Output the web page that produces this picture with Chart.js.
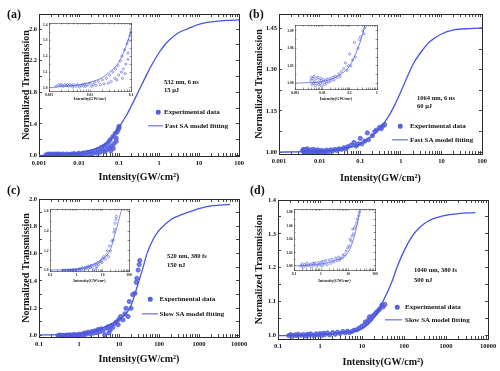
<!DOCTYPE html>
<html><head><meta charset="utf-8">
<script src="https://cdn.jsdelivr.net/npm/chart.js@4.4.1/dist/chart.umd.min.js"></script>
<style>
html,body{margin:0;padding:0;background:#fff;}
#wrap{position:relative;width:500px;height:371px;overflow:hidden;font-family:"Liberation Serif","Times New Roman",serif;font-weight:bold;color:#111;}
#wrap canvas{position:absolute;}
.t{position:absolute;white-space:nowrap;line-height:1;transform:translateY(-50%);}
.dot{position:absolute;width:4.5px;height:4.5px;border-radius:50%;background:#5560dc;transform:translate(-50%,-50%);}
.ln{position:absolute;height:1.3px;background:#4656dc;transform:translateY(-50%);}
</style></head><body>
<div id="wrap">
<canvas id="cA" width="250" height="185" style="left:0;top:0"></canvas>
<canvas id="cB" width="250" height="185" style="left:250px;top:0"></canvas>
<canvas id="cC" width="250" height="186" style="left:0;top:185px"></canvas>
<canvas id="cD" width="250" height="186" style="left:250px;top:185px"></canvas>
<canvas id="iA" width="98" height="86" style="left:38px;top:18px"></canvas>
<canvas id="iB" width="98" height="84" style="left:284px;top:20px"></canvas>
<canvas id="iC" width="95" height="82" style="left:39px;top:204px"></canvas>
<canvas id="iD" width="97" height="82" style="left:283px;top:204px"></canvas>
</div>
<script>
// ---------- DATA ----------
// (a) 532 nm, 6 ns
const expA_x = [0.0015,0.0017,0.0019,0.002,0.0022,0.0024,0.0026,0.0028,0.003,0.0032,0.0035,0.0038,0.004,0.0045,0.005,0.0055,0.006,0.0065,0.007,0.0075,0.008,0.009,0.01,0.011,0.012,0.013,0.014,0.016,0.018,0.02,0.022,0.025,0.028,0.03,0.033,0.036,0.04,0.042,0.045,0.048,0.05,0.055,0.058,0.06,0.065,0.07,0.075,0.08,0.085,0.09,0.095,0.1,0.1,0.062,0.072,0.085];
const expA_y = [1.01,1.02,1.015,1.02,1.01,1.02,1.015,1.02,1.01,1.02,1.015,1.005,1.02,1.01,1.02,1.005,1.015,1.02,1.01,1.025,1.01,1.02,1.03,1.01,1.02,1.035,1.015,1.04,1.02,1.05,1.025,1.06,1.03,1.08,1.04,1.1,1.06,1.12,1.05,1.14,1.08,1.17,1.1,1.2,1.12,1.24,1.15,1.28,1.22,1.3,1.33,1.37,1.35,1.06,1.09,1.18];
const fitA_x = [0.001,0.002,0.005,0.01,0.02,0.03,0.05,0.07,0.1,0.15,0.2,0.3,0.5,0.7,1,1.5,2,3,5,10,20,50,100];
const fitA_y = [1.0,1.008,1.018,1.035,1.065,1.1,1.16,1.24,1.36,1.5,1.62,1.8,2.03,2.17,2.3,2.42,2.48,2.55,2.6,2.66,2.69,2.71,2.715];
const xLabA = ['0.001','0.01','0.1','1','10','100'];
const yLabA = ['1.0','1.4','1.8','2.2','2.6'];
const xLabAi = ['0.001','0.01','0.1'];
const yLabAi = ['1.0','1.1','1.2','1.3','1.4'];

// (b) 1064 nm, 6 ns
const expB_x = [0.0038,0.004,0.0042,0.0045,0.0048,0.005,0.0052,0.0055,0.006,0.0065,0.007,0.0075,0.008,0.0085,0.009,0.0095,0.01,0.011,0.012,0.013,0.014,0.015,0.017,0.019,0.021,0.024,0.027,0.03,0.035,0.04,0.045,0.05,0.06,0.07,0.08,0.09,0.1,0.11,0.13,0.15,0.16,0.2,0.23,0.25,0.3,0.33,0.36,0.4];
const expB_y = [1.005,1.01,0.998,1.008,1.0,1.012,1.003,0.996,1.008,1.0,1.01,0.997,1.005,1.0,1.008,0.995,1.002,1.006,0.998,1.004,1.0,1.007,1.002,1.008,1.004,1.01,1.006,1.012,1.01,1.016,1.012,1.02,1.025,1.035,1.022,1.03,1.05,1.03,1.04,1.07,1.045,1.06,1.075,1.08,1.09,1.085,1.095,1.1];
const fitB_x = [0.001,0.003,0.01,0.03,0.1,0.2,0.3,0.5,0.7,1,1.5,2,3,5,10,20,50,100];
const fitB_y = [1.0,1.001,1.003,1.01,1.03,1.06,1.085,1.13,1.17,1.22,1.28,1.32,1.36,1.4,1.43,1.445,1.45,1.452];
const xLabB = ['0.001','0.01','0.1','1','10','100'];
const yLabB = ['1.00','1.15','1.30','1.45'];
const xLabBi = ['0.001','0.01','0.1','1'];
const yLabBi = ['1.00','1.03','1.06','1.09'];

// (c) 520 nm, 380 fs
const expC_x = [0.3,0.33,0.36,0.4,0.45,0.5,0.55,0.6,0.65,0.7,0.75,0.8,0.9,1.0,1.1,1.2,1.3,1.4,1.5,1.7,1.9,2.1,2.3,2.5,2.8,3.0,3.3,3.6,4.0,4.4,4.8,5.3,5.6,6,6.5,7,8,8.6,9.5,10,11,12.6,14,15,16.8,18,20,22,25,27,28,30,32,33];
const expC_y = [1.0,1.005,1.0,1.003,1.0,1.005,1.002,1.006,1.0,1.004,1.008,1.002,1.006,1.01,1.0,1.012,1.005,1.02,1.01,1.025,1.012,1.03,1.018,1.035,1.022,1.045,1.028,1.05,1.035,1.005,1.055,1.065,1.02,1.04,1.075,1.06,1.09,1.1,1.08,1.12,1.14,1.115,1.16,1.2,1.14,1.25,1.2,1.3,1.31,1.39,1.42,1.48,1.52,1.55];
const fitC_x = [0.1,0.3,1,2,3,5,7,10,15,20,30,40,50,70,100,150,200,300,500,1000,2000,6000];
const fitC_y = [1.005,1.007,1.015,1.03,1.045,1.07,1.09,1.12,1.16,1.22,1.38,1.5,1.6,1.7,1.77,1.82,1.85,1.875,1.9,1.93,1.95,1.96];
const xLabC = ['0.1','1','10','100','1000','10000'];
const yLabC = ['1.0','1.2','1.4','1.6','1.8','2.0'];
const xLabCi = ['0.1','1','10','100'];
const yLabCi = ['1.0','1.2','1.4','1.6'];

// (d) 1040 nm, 380 fs
const expD_x = [0.18,0.2,0.22,0.25,0.28,0.3,0.35,0.4,0.45,0.5,0.55,0.6,0.7,0.8,0.9,1.0,1.1,1.2,1.3,1.5,1.7,2,2.3,2.6,3,3.5,4,4.5,5,5.7,6.5,7.5,8.5,9.8,11,12,13,14,15,16,17.1,19,21,22.5,25,27,29.6,32,35];
const expD_y = [1.0,1.003,0.998,1.002,1.0,1.004,1.001,1.003,0.999,1.004,1.002,1.005,1.0,1.005,1.002,1.006,1.0,1.007,1.003,1.008,1.002,1.009,1.004,1.01,1.006,1.012,1.008,1.013,1.009,1.012,1.016,1.017,1.022,1.027,1.03,1.04,1.037,1.045,1.055,1.048,1.056,1.06,1.065,1.07,1.075,1.08,1.09,1.085,1.092];
const fitD_x = [0.1,1,3,10,20,30,50,70,100,150,200,300,500,1000,2000,5000];
const fitD_y = [1.0,1.003,1.008,1.02,1.055,1.095,1.155,1.205,1.25,1.29,1.31,1.33,1.345,1.355,1.36,1.363];
const xLabD = ['0.1','1','10','100','1000','10000'];
const yLabD = ['1.0','1.1','1.2','1.3','1.4'];
const xLabDi = ['0.1','1','10','100'];
const yLabDi = ['1.00','1.02','1.04','1.06','1.08'];

// ---------- DRAWING ----------
const FONT = '"Liberation Serif","Times New Roman",serif';
const XT = 'Intensity(GW/cm\u00B2)';
const YT = 'Normalized Transmission';

function dsets(ex, ey, fx, fy, inset){
  return [
    {data: ex.map((x,i)=>({x:x, y:ey[i]})), showLine:false,
     pointRadius: inset?1.1:2.1, pointBorderWidth: inset?0.6:0.8,
     pointBackgroundColor: inset?'rgba(255,255,255,0)':'rgba(88,98,224,0.85)',
     pointBorderColor:'#4f5bd8', order:1},
    {data: fx.map((x,i)=>({x:x, y:fy[i]})), showLine:true, pointRadius:0,
     borderColor:'#4757da', borderWidth: inset?0.7:1.3, cubicInterpolationMode:'monotone', fill:false, order:0}
  ];
}

function build(id, c, datasets){
  const xv = c.xLabs.map(Number), yv = c.yLabs.map(Number);
  const xt = [];
  xv.forEach(v=>{ xt.push(v); for(let k=2;k<=9;k++){ const m=v*k; if(m<=c.xmax*1.0001) xt.push(m);} });
  const yt = yv.slice();
  const st = yv[1]-yv[0];
  for(let i=-1;i<yv.length;i++){ const m=yv[0]+st*(i+0.5); if(m>=c.ymin && m<=c.ymax) yt.push(m); }
  yt.sort((a,b)=>a-b);
  const xcb = v=>{ const i=xv.indexOf(v); return i>=0?c.xLabs[i]:''; };
  const ycb = v=>{ const i=yv.indexOf(v); return i>=0?c.yLabs[i]:''; };
  const grid = {display:true, drawOnChartArea:false, drawTicks:true, tickLength:-c.tl,
                color:'#333', tickColor:'#333', lineWidth:c.lw, tickWidth:c.lw};
  const border = {display:true, color:'#2a2a2a', width:c.bw};
  const tf = {family:FONT, weight:'bold', size:c.fs, lineHeight:1.2};
  const ttf = {family:FONT, weight:'bold', size:c.tfs, lineHeight:1.2};
  const fit = (w,h)=>function(s){ if(w!==null) s.width=w; if(h!==null) s.height=h;
      s.paddingLeft=0; s.paddingRight=0; s.paddingTop=0; s.paddingBottom=0; };
  const xT = s=>{ s.ticks = xt.map(v=>({value:v})); };
  const yT = s=>{ s.ticks = yt.map(v=>({value:v})); };
  const scales = {
    x:{type:'logarithmic', position:'bottom', min:c.xmin, max:c.xmax, afterBuildTicks:xT, afterFit:fit(null,c.xh),
       grid:grid, border:border,
       ticks:{display:true, autoSkip:false, maxRotation:0, minRotation:0, padding:c.xpad, font:tf, color:'#111', callback:xcb},
       title: c.xTitle ? {display:true, text:c.xTitle, font:ttf, color:'#111', padding:{top:0,bottom:c.xtp}} : {display:false}},
    xtop:{type:'logarithmic', position:'top', min:c.xmin, max:c.xmax, afterBuildTicks:xT, afterFit:fit(null,0),
       grid:grid, border:border, ticks:{display:false}},
    y:{type:'linear', position:'left', min:c.ymin, max:c.ymax, afterBuildTicks:yT, afterFit:fit(c.yw,null),
       grid:grid, border:border,
       ticks:{display:true, autoSkip:false, padding:c.ypad, font:tf, color:'#111', callback:ycb},
       title: c.yTitle ? {display:true, text:c.yTitle, font:ttf, color:'#111', padding:{top:c.ytp,bottom:0}} : {display:false}},
    yright:{type:'linear', position:'right', min:c.ymin, max:c.ymax, afterBuildTicks:yT, afterFit:fit(0,null),
       grid:grid, border:border, ticks:{display:false}}
  };
  return new Chart(document.getElementById(id), {
    type:'scatter',
    data:{datasets:datasets},
    options:{responsive:false, animation:false, devicePixelRatio:1, events:[],
      layout:{padding:{left:0, top:c.pt, right:c.pr, bottom:0}},
      plugins:{legend:{display:false}, tooltip:{enabled:false}},
      scales:scales}
  });
}

const mainBase = {tl:3, lw:0.9, bw:1, fs:6.5, tfs:10, xpad:6, ypad:5, xTitle:XT, yTitle:YT};
const insBase = {tl:1.5, lw:0.5, bw:0.6, fs:3.6, tfs:4, xpad:3, ypad:3, yw:11, pt:5, pr:5, xTitle:XT, yTitle:null};

build('cA', Object.assign({}, mainBase, {xmin:0.001, xmax:100, ymin:0.995, ymax:2.79, xLabs:xLabA, yLabs:yLabA,
  pt:14, pr:11, yw:39, xh:29, xtp:2, ytp:20}), dsets(expA_x, expA_y, fitA_x, fitA_y, false));
build('cB', Object.assign({}, mainBase, {xmin:0.001, xmax:100, ymin:0.993, ymax:1.503, xLabs:xLabB, yLabs:yLabB,
  pt:14, pr:18, yw:29, xh:31, xtp:1, ytp:3}), dsets(expB_x, expB_y, fitB_x, fitB_y, false));
build('cC', Object.assign({}, mainBase, {xmin:0.1, xmax:10000, ymin:0.99, ymax:2.0, xLabs:xLabC, yLabs:yLabC,
  pt:14, pr:11, yw:39, xh:34, xtp:6, ytp:20}), dsets(expC_x, expC_y, fitC_x, fitC_y, false));
build('cD', Object.assign({}, mainBase, {xmin:0.1, xmax:10000, ymin:0.99, ymax:1.4, xLabs:xLabD, yLabs:yLabD,
  pt:15, pr:12, yw:28, xh:32, xtp:3, ytp:3.6}), dsets(expD_x, expD_y, fitD_x, fitD_y, false));

build('iA', Object.assign({}, insBase, {xmin:0.001, xmax:0.1, ymin:0.98, ymax:1.41, xLabs:xLabAi, yLabs:yLabAi,
  xh:13, xtp:2.6}), dsets(expA_x, expA_y, fitA_x, fitA_y, true));
build('iB', Object.assign({}, insBase, {xmin:0.001, xmax:1, ymin:0.99, ymax:1.10, xLabs:xLabBi, yLabs:yLabBi,
  xh:15, xtp:2.3}), dsets(expB_x, expB_y, fitB_x, fitB_y, true));
build('iC', Object.assign({}, insBase, {xmin:0.1, xmax:100, ymin:0.995, ymax:1.625, xLabs:xLabCi, yLabs:yLabCi,
  xh:15, xtp:3.1}), dsets(expC_x, expC_y, fitC_x, fitC_y, true));
build('iD', Object.assign({}, insBase, {xmin:0.1, xmax:100, ymin:0.994, ymax:1.085, xLabs:xLabDi, yLabs:yLabDi,
  xh:16, xtp:3.1}), dsets(expD_x, expD_y, fitD_x, fitD_y, true));

// ---------- TEXT OVERLAYS ----------
const wrap = document.getElementById('wrap');
function txt(x, y, s, size){ const d=document.createElement('div'); d.className='t';
  d.style.left=x+'px'; d.style.top=y+'px'; d.style.fontSize=size+'px'; d.textContent=s; wrap.appendChild(d); }
function dot(x, y){ const d=document.createElement('div'); d.className='dot'; d.style.left=x+'px'; d.style.top=y+'px'; wrap.appendChild(d); }
function ln(x1, x2, y){ const d=document.createElement('div'); d.className='ln'; d.style.left=x1+'px'; d.style.top=y+'px'; d.style.width=(x2-x1)+'px'; wrap.appendChild(d); }

txt(7, 14, '(a)', 12); txt(249, 14, '(b)', 12); txt(7, 190, '(c)', 12); txt(250, 190, '(d)', 12);

txt(164, 82, '532 nm, 6 ns', 6.5); txt(164, 90, '15 \u03BCJ', 6.5);
dot(158, 112); txt(164, 112, 'Experimental data', 7);
ln(148, 163, 126); txt(165, 126, 'Fast SA model fitting', 7);

txt(417, 98, '1064 nm, 6 ns', 6.5); txt(417, 106, '60 \u03BCJ', 6.5);
dot(400, 126); txt(410, 126, 'Experimental data', 7);
ln(392, 408, 140); txt(410, 140, 'Fast SA model fitting', 7);

txt(167, 256, '520 nm, 380 fs', 6.5); txt(167, 264.5, '150 nJ', 6.5);
dot(150, 299); txt(159.5, 299, 'Experimental data', 7);
ln(142, 158, 314); txt(159.5, 314, 'Slow SA model fitting', 7);

txt(414, 270, '1040 nm, 380 fs', 6.5); txt(414, 279.5, '500 nJ', 6.5);
dot(397, 307); txt(405, 307, 'Experimental data', 7);
ln(385, 402, 320); txt(405, 320, 'Slow SA model fitting', 7);
</script>
</body></html>
